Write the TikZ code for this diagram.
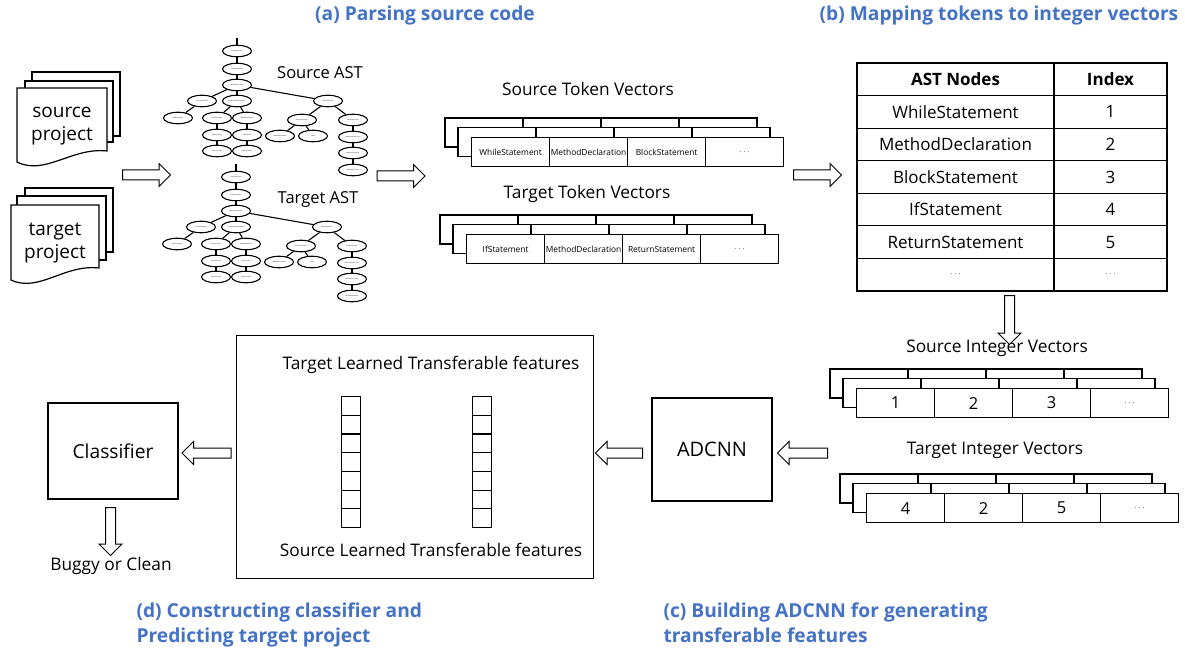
\documentclass[tikz,border=0pt]{standalone}
\usepackage{fontspec}
\setmainfont{Open Sans}
\usetikzlibrary{shapes.geometric,shapes.arrows}
\definecolor{titleblue}{RGB}{68,114,196}
\newcommand{\fsz}[2]{\fontsize{#1}{#2}\selectfont}
\newcommand{\mydots}{{\fsz{9}{10}$\cdots$}}

% vector stack: #1 prefix, #2 x0, #3 y0 (front top-left), #4..#7 texts
\newcommand{\vstack}[7]{%
  \foreach \k in {2,1}{%
    \draw[vline, fill=white] ({#2-\k*13},{#3-\k*9.5}) rectangle ++(312,29);
    \foreach \i in {1,2,3}{\draw[vline] ({#2-\k*13+\i*78},{#3-\k*9.5}) -- ++(0,29);}
  }
  \node[vcell, anchor=north west] (#1a) at (#2,#3) {#4};
  \node[vcell, anchor=north west] (#1b) at ({#2+78},#3) {#5};
  \node[vcell, anchor=north west] (#1c) at ({#2+156},#3) {#6};
  \node[vcell, anchor=north west] (#1d) at ({#2+234},#3) {#7};
}

% AST tree: #1 prefix, #2 dx, #3 dy
\newcommand{\asttree}[3]{%
\begin{scope}[shift={(#2,#3)}]
  \coordinate (#1r) at (237,38);
  \node[astn] (#1n1) at (237,51) {CompilationUnit};
  \node[astn] (#1n2) at (237,69) {ClassDeclaration};
  \node[astn] (#1n3) at (237,85) {MethodDeclaration};
  \node[astn] (#1a1) at (202,101) {FormalParameter};
  \node[astn] (#1a2) at (237,101) {LocalVariableDeclaration};
  \node[astn] (#1a3) at (328,101) {WhileStatement};
  \node[astn] (#1b1) at (178,118) {ReferenceType};
  \node[astn] (#1b2) at (217,118) {ReferenceType};
  \node[astn] (#1b3) at (247,118) {VariableDeclarator};
  \node[astn] (#1b4) at (302,120) {BinaryOperation};
  \node[astn] (#1b5) at (353,120) {BlockStatement};
  \node[astn] (#1c1) at (217,135) {TypeArgument};
  \node[astn] (#1c2) at (247,135) {ClassCreator};
  \node[astn] (#1c3) at (280,136) {MemberReference};
  \node[astn] (#1c4) at (313,136) {Literal};
  \node[astn] (#1c5) at (353,137) {StatementExpression};
  \node[astn] (#1d1) at (217,151) {ReferenceType};
  \node[astn] (#1d2) at (247,151) {ReferenceType};
  \node[astn] (#1d3) at (353,153) {MethodInvocation};
  \node[astn] (#1e1) at (353,170) {MemberReference};
  \draw[astedge] (#1r) -- (#1n1);
  \foreach \p/\q in {n1/n2,n2/n3,n3/a1,n3/a2,n3/a3,a1/b1,a2/b2,a2/b3,a3/b4,a3/b5,b2/c1,b3/c2,b4/c3,b4/c4,b5/c5,c1/d1,c2/d2,c5/d3,d3/e1}
    {\draw[astedge] (#1\p) -- (#1\q);}
\end{scope}}

\begin{document}
\begin{tikzpicture}[x=1pt,y=-1pt,
  box/.style={draw, line width=1.2pt, fill=white},
  vline/.style={draw, line width=1.2pt},
  vcell/.style={draw, line width=1.2pt, fill=white, minimum width=78pt, minimum height=29pt, inner sep=0pt},
  astn/.style={draw, ellipse, line width=1.1pt, minimum width=29pt, minimum height=11.5pt, inner sep=0pt, font=\fsz{1.5}{2}},
  astedge/.style={line width=1.1pt},
  barrow/.style={single arrow, draw, line width=1pt, fill=white, inner xsep=0pt, inner ysep=4.5pt,
     single arrow head extend=6.5pt, single arrow head indent=0pt, minimum height=48pt},
  lbl/.style={font=\fsz{17.3}{20}},
  ttl/.style={font=\bfseries\fsz{19.2}{25}, text=titleblue},
  tcell/.style={draw, line width=1.2pt, minimum height=32.57pt, inner sep=0pt, font=\fsz{17}{20}},
  fcell/.style={draw, line width=1.1pt, minimum width=19pt, minimum height=18.7pt, inner sep=0pt, anchor=north west},
]
\useasboundingbox (0,0) rectangle (1185,652);

% titles
\node[ttl] (ta) at (425,16) {(a) Parsing source code};
\node[ttl] (tb) at (999,16) {(b) Mapping tokens to integer vectors};
\node[ttl, anchor=north west, align=left] (td) at (133,599) {(d) Constructing classifier and\\Predicting target project};
\node[ttl, anchor=north west, align=left] (tc) at (660,599) {(c) Building ADCNN for generating\\transferable features};

% documents
\draw[box] (32,72) rectangle (120,136);
\draw[box] (25,81) rectangle (113,142);
\draw[box] (17,88) -- (107,88) -- (107,151) .. controls (72,147) and (45,176) .. (17,162) -- cycle;
\node[font=\fsz{19}{23}, align=center] (srcdoc) at (62,126) {source\\project};
\draw[box] (25,188) rectangle (113,252);
\draw[box] (17,196) rectangle (106,260);
\draw[box] (11,205) -- (99,205) -- (99,268) .. controls (64,264) and (39,293) .. (11,280) -- cycle;
\node[font=\fsz{19}{23}, align=center] (tgtdoc) at (55,243) {target\\project};

% ASTs
\asttree{s}{0}{0}
\asttree{t}{-1}{126}
\node[font=\fsz{16.5}{20}] (sast) at (320,73) {Source AST};
\node[font=\fsz{16.5}{20}] (tast) at (318,200) {Target AST};

% token vectors
\node[lbl] (stv) at (588,89) {Source Token Vectors};
\node[lbl] (ttv) at (587,194) {Target Token Vectors};
\begin{scope}[vcell/.append style={font=\fsz{8.4}{10}}]
\vstack{stok}{471}{137}{WhileStatement}{MethodDeclaration}{BlockStatement}{\mydots}
\vstack{ttok}{466}{234}{IfStatement}{MethodDeclaration}{ReturnStatement}{\mydots}
\end{scope}

% table
\node[tcell, minimum width=197pt, font=\bfseries\fsz{17}{20}] (h1) at (955.5,79.3) {AST Nodes};
\node[tcell, minimum width=113pt, font=\bfseries\fsz{17}{20}] (h2) at (1110.5,79.3) {Index};
\foreach \r/\n/\v in {1/WhileStatement/1, 2/MethodDeclaration/2, 3/BlockStatement/3, 4/IfStatement/4, 5/ReturnStatement/5, 6/\mydots/\mydots}{
  \node[tcell, minimum width=197pt] (r\r a) at (955.5,{79.3+\r*32.57}) {\n};
  \node[tcell, minimum width=113pt] (r\r b) at (1110.5,{79.3+\r*32.57}) {\v};
}

% integer vectors
\node[lbl] (siv) at (997,348) {Source Integer Vectors};
\node[lbl] (tiv) at (995,450) {Target Integer Vectors};
\begin{scope}[vcell/.append style={font=\fsz{16.5}{20}}]
\vstack{sint}{856}{388}{1}{2}{3}{\mydots}
\vstack{tint}{866}{493}{4}{2}{5}{\mydots}
\end{scope}

% ADCNN
\node[box, minimum width=120pt, minimum height=103pt, font=\fsz{20}{23}] (adcnn) at (712,449.5) {ADCNN};

% features box
\node[box, minimum width=357pt, minimum height=243pt, anchor=north west] (feat) at (236,335) {};
\node[lbl] (tlf) at (431,365) {Target Learned Transferable features};
\node[lbl] (slf) at (431,550) {Source Learned Transferable features};
\foreach \j in {0,...,6}{
  \node[fcell] (fa\j) at (341,{396+\j*18.7}) {};
  \node[fcell] (fb\j) at (472,{396+\j*18.7}) {};
}

% classifier
\node[box, minimum width=130pt, minimum height=96pt, font=\fsz{19.2}{23}] (clf) at (113,451) {Classifier};
\node[lbl] (out) at (111,566) {Buggy or Clean};

% block arrows
\node[barrow] (ar1) at (144,175) {};
\node[barrow] (ar2) at (398.5,176) {};
\node[barrow] (ar3) at (815,175) {};
\node[barrow, rotate=-90, minimum height=49pt] (ar4) at (1009.5,317.5) {};
\node[barrow, rotate=180, minimum height=50pt] (ar5) at (805,453) {};
\node[barrow, rotate=180, minimum height=47pt] (ar6) at (621.5,453) {};
\node[barrow, rotate=180, minimum height=49pt] (ar7) at (209,453) {};
\node[barrow, rotate=-90, minimum height=48pt] (ar8) at (110.5,529) {};
\end{tikzpicture}
\end{document}
